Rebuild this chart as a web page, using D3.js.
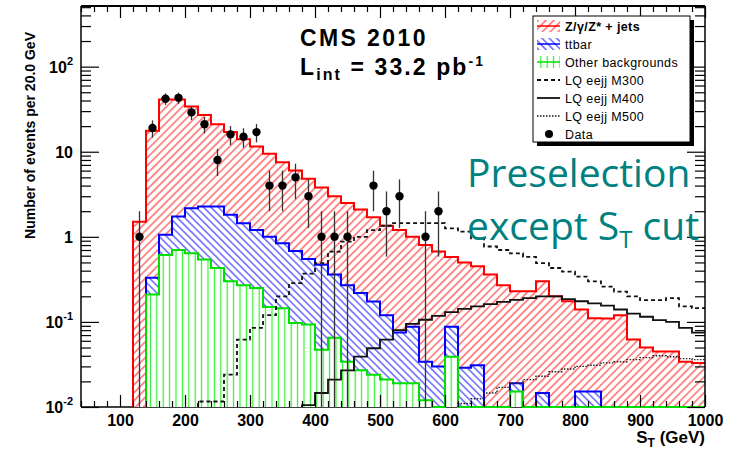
<!DOCTYPE html>
<html>
<head>
<meta charset="utf-8">
<script src="https://cdn.jsdelivr.net/npm/d3@7"></script>
<style>
  body { margin: 0; background: #fff; }
  svg { display: block; }
  text { font-family: "Liberation Sans", Arial, Helvetica, sans-serif; }
</style>
</head>
<body>
<svg id="chart" width="738" height="449"></svg>
<script>
// S_T distribution, 20 GeV bins from 120 to 1000 GeV
const binLow = [120,140,160,180,200,220,240,260,280,300,320,340,360,380,400,420,440,460,480,500,520,540,
                560,580,600,620,640,660,680,700,720,740,760,780,800,820,840,860,880,900,920,940,960,980];
const binWidth = 20;

// Background expectations per bin (events / 20 GeV)
const zJets = [1.5,17.27,39.94,39.27,31.83,24.73,18.73,15.18,12.56,10.3,8.5,6.66,5.32,4.25,3.33,2.64,2.23,1.882,1.526,1.23,1.125,0.912,
               0.766,0.64,0.492,0.471,0.419,0.36,0.27,0.211,0.23,0.285,0.2,0.175,0.125,0.095,0.11,0.12,0.062,0.05,0.045,0.045,0.034,0.033];
const ttbar = [0,0.12,0.45,1.03,1.53,1.73,1.84,1.52,1.17,0.95,0.85,0.695,0.583,0.457,0.423,0.295,0.236,0.191,0.15,0.099,0.056,0.069,
               0.022,0.03,0.049,0.029,0.031,0,0,0.0038,0,0.0146,0,0,0.0152,0.0152,0,0,0,0,0,0,0,0];
const otherBkg = [0,0.21,0.61,0.70,0.64,0.54,0.43,0.30,0.27,0.25,0.15,0.145,0.097,0.093,0.047,0.065,0.034,0.027,0.024,0.021,0.019,0.019,
                  0.012,0,0.039,0,0,0,0,0.0152,0,0,0,0,0,0,0,0,0,0,0,0,0,0];

// Leptoquark signal predictions
const lqM300 = [0,0,0,0,0,0.0116,0.0116,0.024,0.062,0.085,0.12,0.2,0.285,0.37,0.49,0.67,0.88,1.0,1.2,1.35,1.45,1.45,
                1.45,1.45,1.26,1.15,0.96,0.77,0.7,0.64,0.58,0.49,0.43,0.39,0.34,0.30,0.26,0.227,0.2,0.18,0.18,0.19,0.152,0.145];
const lqM400 = [0,0,0,0,0,0,0,0,0,0,0,0,0,0.0105,0.0146,0.021,0.027,0.039,0.049,0.062,0.08,0.095,
                0.106,0.118,0.13,0.142,0.152,0.162,0.172,0.182,0.19,0.2,0.2,0.185,0.175,0.165,0.155,0.14,0.125,0.115,0.105,0.1,0.085,0.075];
const lqM500 = [0,0,0,0,0,0,0,0,0,0,0,0,0,0,0,0,0,0,0,0,0,0,
                0,0,0,0.011,0.0125,0.0146,0.017,0.019,0.021,0.023,0.026,0.028,0.030,0.031,0.033,0.034,0.036,0.038,0.04,0.039,0.037,0.036];

// Observed events
const dataCounts = [1,19,42,43,29,21,8,16,15,17,4,4,5,3,1,1,1,0,4,2,3,0,
                    1,2,0,0,0,0,0,0,0,0,0,0,0,0,0,0,0,0,0,0,0,0];

// Axis ticks
const xMajorTicks = [100,200,300,400,500,600,700,800,900,1000];
const yDecades = [0.01,0.1,1,10,100];
const yLabels = { 0.01: ["10","-2"], 0.1: ["10","-1"], 1: ["1",""], 10: ["10",""], 100: ["10","2"] };

const legendLabels = ["Z/\u03B3/Z* + jets", "ttbar", "Other backgrounds", "LQ eejj M300", "LQ eejj M400", "LQ eejj M500", "Data"];

// ---------------------------------------------------------------
const svg = d3.select("#chart");
const frame = { left: 81, right: 705, top: 6, bottom: 407 };
const yMin = 0.01;
const x = d3.scaleLinear().domain([40, 1000]).range([frame.left, frame.right]);
const y = d3.scaleLog().domain([yMin, 516]).range([frame.bottom, frame.top]);

// hatch patterns
const defs = svg.append("defs");
function hatch(id, color, angle, spacing, width) {
  const p = defs.append("pattern").attr("id", id)
    .attr("patternUnits", "userSpaceOnUse")
    .attr("width", spacing).attr("height", spacing)
    .attr("patternTransform", `rotate(${angle})`);
  p.append("rect").attr("width", spacing).attr("height", spacing).attr("fill", "#fff");
  p.append("line").attr("x1", spacing / 2).attr("x2", spacing / 2)
    .attr("y1", 0).attr("y2", spacing)
    .attr("stroke", color).attr("stroke-width", width);
}
hatch("hatchRed", "#ff3030", 45, 5.6, 1.1);
hatch("hatchBlue", "#3030ff", -45, 5.2, 1.1);
hatch("hatchGreen", "#30f030", 0, 6.4, 1.2);

defs.append("clipPath").attr("id", "plotClip").append("rect")
  .attr("x", frame.left).attr("y", frame.top - 1)
  .attr("width", frame.right - frame.left).attr("height", frame.bottom - frame.top + 3);

// stacked levels
const otherTop = otherBkg.slice();
const ttbarTop = otherBkg.map((v, i) => v + ttbar[i]);
const totalTop = ttbarTop.map((v, i) => v + zJets[i]);

const yv = v => y(Math.max(v, yMin));
function stepPts(vals, from) {
  const pts = [[x(binLow[from]), frame.bottom]];
  for (let i = from; i < vals.length; i++) {
    pts.push([x(binLow[i]), yv(vals[i])], [x(binLow[i] + binWidth), yv(vals[i])]);
  }
  return pts;
}
const lineGen = d3.line();
function areaPath(vals) {
  const pts = stepPts(vals, 0);
  pts.push([x(binLow[binLow.length - 1] + binWidth), frame.bottom]);
  return lineGen(pts) + "Z";
}
function firstNonZero(vals) { return vals.findIndex(v => v > 0); }

const axes = svg.append("g");
const plot = svg.append("g").attr("clip-path", "url(#plotClip)");

// stack: total, then ttbar+other, then other
[[totalTop, "hatchRed", "#ff0000"], [ttbarTop, "hatchBlue", "#0000ff"], [otherTop, "hatchGreen", "#00e000"]]
  .forEach(([vals, pat, col]) => {
    plot.append("path").attr("d", areaPath(vals)).attr("fill", `url(#${pat})`).attr("stroke", "none");
    const start = firstNonZero(vals);
    plot.append("path").attr("d", lineGen(stepPts(vals, start)))
      .attr("fill", "none").attr("stroke", col).attr("stroke-width", 2).attr("stroke-linejoin", "miter");
  });

// signal curves
[[lqM300, "4,3", 1.8, "#111"], [lqM400, null, 1.8, "#111"], [lqM500, "1.5,1.5", 1.4, "#222"]]
  .forEach(([vals, dash, w, col]) => {
    const start = firstNonZero(vals);
    plot.append("path").attr("d", lineGen(stepPts(vals, start)))
      .attr("fill", "none").attr("stroke", col).attr("stroke-width", w)
      .attr("stroke-dasharray", dash);
  });

// data points with Poisson (sqrt N) errors
const dataG = plot.append("g");
dataCounts.forEach((n, i) => {
  if (n <= 0) return;
  const cx = x(binLow[i] + binWidth / 2);
  const err = Math.sqrt(n);
  dataG.append("line").attr("x1", cx).attr("x2", cx)
    .attr("y1", yv(n - err)).attr("y2", yv(n + err))
    .attr("stroke", "#333").attr("stroke-width", 1.3);
  dataG.append("circle").attr("cx", cx).attr("cy", y(n)).attr("r", 4.2).attr("fill", "#000");
});

// ---------------- axes ----------------
const xMinor = d3.range(40, 1001, 20).filter(v => v % 100 !== 0);
const yMinor = [];
[0.01, 0.1, 1, 10, 100].forEach(d => { for (let k = 2; k <= 9; k++) if (d * k <= 516) yMinor.push(d * k); });

function noDomain(g) { g.select(".domain").remove(); g.selectAll("line").attr("stroke", "#000").attr("stroke-width", 1.2); }

const bottomMajor = svg.append("g").attr("transform", `translate(0,${frame.bottom})`)
  .call(d3.axisBottom(x).tickValues(xMajorTicks).tickSize(-12).tickPadding(8).tickFormat(d3.format("d")))
  .call(noDomain);
bottomMajor.selectAll("text").attr("font-size", 16).attr("font-weight", "bold").attr("fill", "#000")
  .attr("font-family", "Liberation Sans, Arial, sans-serif");
svg.append("g").attr("transform", `translate(0,${frame.bottom})`)
  .call(d3.axisBottom(x).tickValues(xMinor).tickSize(-6).tickFormat(""))
  .call(noDomain);
svg.append("g").attr("transform", `translate(0,${frame.top})`)
  .call(d3.axisTop(x).tickValues(xMajorTicks).tickSize(-12).tickFormat(""))
  .call(noDomain);
svg.append("g").attr("transform", `translate(0,${frame.top})`)
  .call(d3.axisTop(x).tickValues(xMinor).tickSize(-6).tickFormat(""))
  .call(noDomain);

const leftMajor = svg.append("g").attr("transform", `translate(${frame.left},0)`)
  .call(d3.axisLeft(y).tickValues(yDecades).tickSize(-18).tickPadding(8).tickFormat(() => ""))
  .call(noDomain);
leftMajor.selectAll(".tick text").each(function (d) {
  const t = d3.select(this).attr("font-size", 16).attr("font-weight", "bold").attr("fill", "#000")
    .attr("font-family", "Liberation Sans, Arial, sans-serif").attr("dy", "0.36em");
  const [base, sup] = yLabels[d];
  t.append("tspan").text(base);
  if (sup) t.append("tspan").attr("font-size", 11).attr("dy", "-0.75em").text(sup);
});
svg.append("g").attr("transform", `translate(${frame.left},0)`)
  .call(d3.axisLeft(y).tickValues(yMinor).tickSize(-10).tickFormat(""))
  .call(noDomain);
svg.append("g").attr("transform", `translate(${frame.right},0)`)
  .call(d3.axisRight(y).tickValues(yDecades).tickSize(-18).tickFormat(""))
  .call(noDomain);
svg.append("g").attr("transform", `translate(${frame.right},0)`)
  .call(d3.axisRight(y).tickValues(yMinor).tickSize(-10).tickFormat(""))
  .call(noDomain);

// frame lines
axes.append("line").attr("x1", frame.left).attr("x2", frame.right).attr("y1", frame.bottom).attr("y2", frame.bottom)
  .attr("stroke", "#000").attr("stroke-width", 1.6);
svg.append("line").attr("x1", frame.left).attr("x2", frame.right).attr("y1", frame.top).attr("y2", frame.top)
  .attr("stroke", "#000").attr("stroke-width", 2);
svg.append("line").attr("x1", frame.left).attr("x2", frame.left).attr("y1", frame.top).attr("y2", frame.bottom)
  .attr("stroke", "#000").attr("stroke-width", 1.5);
svg.append("line").attr("x1", frame.right).attr("x2", frame.right).attr("y1", frame.top).attr("y2", frame.bottom)
  .attr("stroke", "#000").attr("stroke-width", 1.5);

// axis titles
const xt = svg.append("text").attr("x", frame.right).attr("y", 443).attr("text-anchor", "end")
  .attr("font-size", 17).attr("font-weight", "bold");
xt.append("tspan").text("S");
xt.append("tspan").attr("font-size", 12).attr("dy", 4).text("T");
xt.append("tspan").attr("dy", -4).text(" (GeV)");

svg.append("text").attr("transform", "translate(35,32) rotate(-90)").attr("text-anchor", "end")
  .attr("font-size", 14).attr("font-weight", "bold").text("Number of events per 20.0 GeV");

// experiment label
svg.append("text").attr("x", 300).attr("y", 46).attr("font-size", 23).attr("font-weight", "bold")
  .attr("letter-spacing", 2.4).text("CMS 2010");
const lumi = svg.append("text").attr("x", 300).attr("y", 75).attr("font-size", 23).attr("font-weight", "bold")
  .attr("letter-spacing", 2.1);
lumi.append("tspan").text("L");
lumi.append("tspan").attr("font-size", 16).attr("dy", 5).text("int");
lumi.append("tspan").attr("dy", -5).text(" = 33.2 pb");
lumi.append("tspan").attr("font-size", 14).attr("dy", -9).text("-1");

// legend
const lg = svg.append("g");
const lx0 = 533, ly0 = 16, lw = 157, lh = 126;
lg.append("rect").attr("x", lx0 + 4).attr("y", ly0 + 4).attr("width", lw).attr("height", lh).attr("fill", "#000");
lg.append("rect").attr("x", lx0).attr("y", ly0).attr("width", lw).attr("height", lh)
  .attr("fill", "#fff").attr("stroke", "#000").attr("stroke-width", 1);
const legendStyle = [
  { kind: "fill", pat: "hatchRed", col: "#ff0000" },
  { kind: "fill", pat: "hatchBlue", col: "#0000ff" },
  { kind: "fill", pat: "hatchGreen", col: "#00e000" },
  { kind: "line", dash: "4,3", w: 1.8 },
  { kind: "line", dash: null, w: 1.8 },
  { kind: "line", dash: "1.5,1.5", w: 1.4 },
  { kind: "marker" }
];
legendLabels.forEach((label, i) => {
  const cy = 26 + i * 18;
  const st = legendStyle[i];
  if (st.kind === "fill") {
    lg.append("rect").attr("x", 537).attr("y", cy - 6).attr("width", 23).attr("height", 12)
      .attr("fill", `url(#${st.pat})`);
    lg.append("line").attr("x1", 537).attr("x2", 560).attr("y1", cy).attr("y2", cy)
      .attr("stroke", st.col).attr("stroke-width", 1.5);
  } else if (st.kind === "line") {
    lg.append("line").attr("x1", 537).attr("x2", 560).attr("y1", cy).attr("y2", cy)
      .attr("stroke", "#111").attr("stroke-width", st.w).attr("stroke-dasharray", st.dash);
  } else {
    lg.append("circle").attr("cx", 549).attr("cy", cy).attr("r", 4).attr("fill", "#000");
  }
  lg.append("text").attr("x", 565).attr("y", cy + 4.5).attr("font-size", 12.5)
    .attr("letter-spacing", 0.4).attr("font-weight", i === 0 ? "bold" : "normal").text(label);
});

// selection annotation
const note = svg.append("g").attr("fill", "#00807f").attr("font-size", 39);
note.append("text").attr("x", 467).attr("y", 187).style("font-family", "'Open Sans', sans-serif").text("Preselection");
const n2 = note.append("text").attr("x", 467).attr("y", 240).style("font-family", "'Open Sans', sans-serif");
n2.append("tspan").text("except S");
n2.append("tspan").attr("font-size", 24).attr("dy", 8).text("T");
n2.append("tspan").attr("dy", -8).text(" cut");
</script>
</body>
</html>
